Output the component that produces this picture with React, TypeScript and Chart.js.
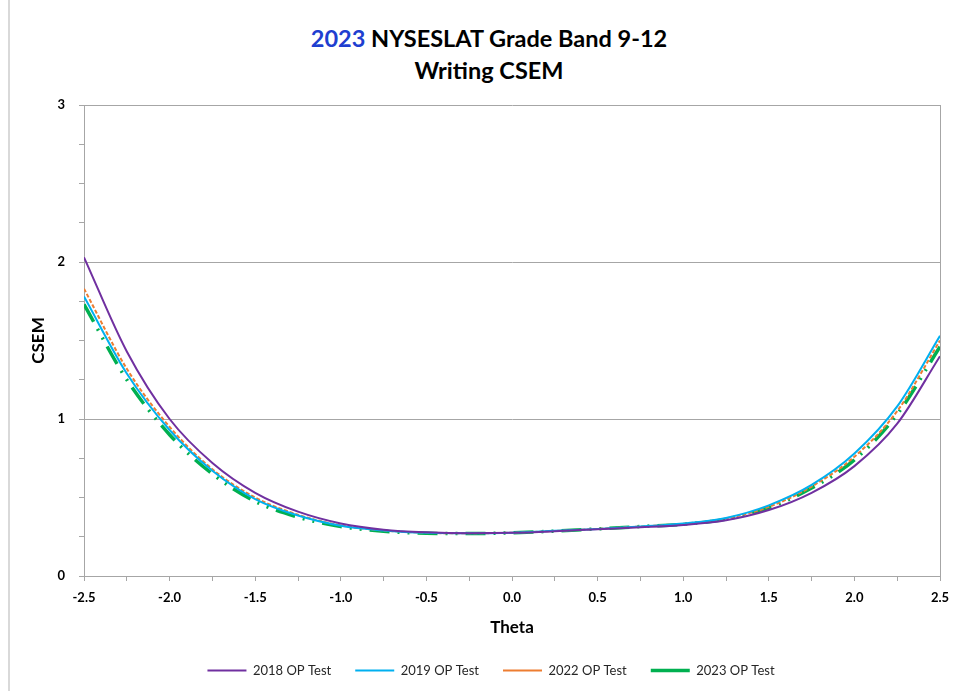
import React, { useEffect, useRef } from "react";
import { Chart, registerables } from "chart.js";

Chart.register(...registerables);

const thetas = [-2.5, -2.25, -2.0, -1.75, -1.5, -1.25, -1.0, -0.75, -0.5, -0.25, 0, 0.25, 0.5, 0.75, 1.0, 1.25, 1.5, 1.75, 2.0, 2.25, 2.5];

const csem2018 = [2.03, 1.43, 1.0, 0.72, 0.53, 0.41, 0.335, 0.295, 0.278, 0.272, 0.275, 0.285, 0.298, 0.31, 0.325, 0.355, 0.42, 0.53, 0.7, 0.97, 1.4];
const csem2019 = [1.78, 1.29, 0.93, 0.67, 0.49, 0.385, 0.32, 0.29, 0.275, 0.272, 0.276, 0.288, 0.3, 0.315, 0.335, 0.37, 0.45, 0.58, 0.78, 1.08, 1.53];
const csem2022 = [1.83, 1.32, 0.95, 0.68, 0.5, 0.39, 0.322, 0.29, 0.275, 0.272, 0.276, 0.287, 0.3, 0.315, 0.333, 0.367, 0.44, 0.57, 0.76, 1.05, 1.5];
const csem2023 = [1.73, 1.25, 0.9, 0.65, 0.475, 0.375, 0.315, 0.285, 0.272, 0.27, 0.275, 0.286, 0.3, 0.315, 0.33, 0.362, 0.435, 0.56, 0.74, 1.03, 1.46];

const seriesLabels = ["2018 OP Test", "2019 OP Test", "2022 OP Test", "2023 OP Test"];

const FONT = "Lato, 'Open Sans', sans-serif";
const GRID = "#a6a6a6";

const toPoints = (vals: number[]) => thetas.map((t, i) => ({ x: t, y: vals[i] }));

export default function App() {
  const ref = useRef<HTMLCanvasElement | null>(null);

  useEffect(() => {
    if (!ref.current) return;
    const isHalf = (v: number) => Math.abs(v * 2 - Math.round(v * 2)) < 1e-6;
    const isInt = (v: number) => Math.abs(v - Math.round(v)) < 1e-6;
    const chart = new Chart(ref.current, {
      type: "line",
      data: {
        datasets: [
          { label: seriesLabels[0], data: toPoints(csem2018), borderColor: "#7030A0", backgroundColor: "#7030A0", borderWidth: 2 },
          { label: seriesLabels[1], data: toPoints(csem2019), borderColor: "#00B0F0", backgroundColor: "#00B0F0", borderWidth: 2 },
          { label: seriesLabels[2], data: toPoints(csem2022), borderColor: "#ED7D31", backgroundColor: "#ED7D31", borderWidth: 2, borderDash: [4, 2] },
          { label: seriesLabels[3], data: toPoints(csem2023), borderColor: "#00B050", backgroundColor: "#00B050", borderWidth: 3.5, borderDash: [20, 8, 2, 8, 2, 8] },
        ] as any,
      },
      options: {
        animation: false,
        responsive: false,
        elements: { point: { radius: 0 }, line: { cubicInterpolationMode: "monotone" } },
        layout: { padding: { top: 105, right: 16, left: 42, bottom: 4 } },
        plugins: {
          title: { display: false },
          tooltip: { enabled: false },
          legend: {
            position: "bottom",
            labels: {
              usePointStyle: true,
              pointStyle: "line",
              pointStyleWidth: 39,
              padding: 24,
              color: "#262626",
              font: { family: FONT, size: 13 },
            },
          },
        },
        scales: {
          x: {
            type: "linear",
            min: -2.5,
            max: 2.5,
            afterFit: (s: any) => { s.height = 64; s.paddingRight = 0; s.paddingLeft = 0; },
            ticks: {
              stepSize: 0.25,
              autoSkip: false,
              maxRotation: 0,
              padding: 9,
              color: "#000",
              font: { family: FONT, size: 13, weight: "bold" },
              callback: (v: any) => (isHalf(Number(v)) ? Number(v).toFixed(1) : ""),
            },
            grid: {
              color: (c: any) => (c.tick && Math.abs(c.tick.value - 2.5) < 1e-6 ? GRID : "rgba(0,0,0,0)"),
              tickColor: GRID,
              tickLength: 5,
              lineWidth: 1,
            },
            border: { display: true, color: GRID, width: 1 },
            title: {
              display: true,
              text: "Theta",
              color: "#000",
              font: { family: FONT, size: 17, weight: "bold" },
              padding: { top: 0, bottom: 2 },
            },
          },
          y: {
            min: 0,
            max: 3,
            afterFit: (s: any) => { s.width = 42; },
            ticks: {
              stepSize: 0.25,
              autoSkip: false,
              padding: 14,
              color: "#000",
              font: { family: FONT, size: 13, weight: "bold" },
              callback: (v: any) => (isInt(Number(v)) ? String(Math.round(Number(v))) : ""),
            },
            grid: {
              color: (c: any) => (c.tick && isInt(c.tick.value) ? GRID : "rgba(0,0,0,0)"),
              tickColor: GRID,
              tickLength: 5,
              lineWidth: 1,
            },
            border: { display: true, color: GRID, width: 1 },
            title: {
              display: true,
              text: "CSEM",
              color: "#000",
              font: { family: FONT, size: 17, weight: "bold" },
              padding: { top: -14, bottom: 0 },
            },
          },
        },
      } as any,
    });
    return () => chart.destroy();
  }, []);

  return (
    <div style={{ position: "absolute", left: 0, top: 0, width: 956, height: 691, background: "#fff", overflow: "hidden" }}>
      <div style={{ position: "absolute", left: 8, top: 0, width: 2, height: 691, background: "#d9d9d9" }} />
      <div
        style={{
          position: "absolute",
          left: 189,
          top: 22,
          width: 600,
          textAlign: "center",
          fontFamily: FONT,
          fontWeight: "bold",
          fontSize: 23.5,
          lineHeight: "32px",
          color: "#000",
        }}
      >
        <div>
          <span style={{ color: "#1F3FD0" }}>2023</span> NYSESLAT Grade Band 9-12
        </div>
        <div>Writing CSEM</div>
      </div>
      <canvas ref={ref} width={956} height={691} style={{ position: "absolute", left: 0, top: 0, width: 956, height: 691 }} />
    </div>
  );
}
